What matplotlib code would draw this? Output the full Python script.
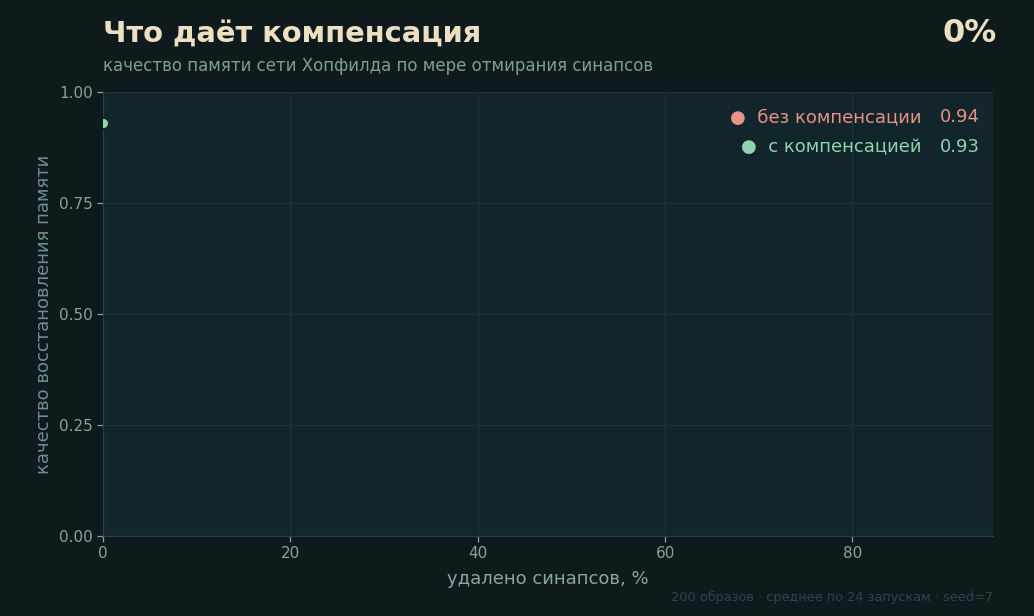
import matplotlib

matplotlib.use("Agg")
import matplotlib.pyplot as plt

# progress of the animation frame (percent of synapses removed so far)
removed_pct = [0]
quality_no_comp = [0.94]
quality_comp = [0.93]

series_labels = ["без компенсации", "с компенсацией"]
series_colors = ["#e8928a", "#8fd3b0"]

x_ticks = [0, 20, 40, 60, 80]
y_ticks = [0.0, 0.25, 0.5, 0.75, 1.0]

FIG_BG = "#0e1a1b"
AX_BG = "#12252a"
GRID = "#1e3336"
TICK = "#86a3a0"
TITLE = "#ecdfc2"

fig = plt.figure(figsize=(10.34, 6.16), dpi=100, facecolor=FIG_BG)
ax = fig.add_axes([103 / 1034, 80 / 616, 890 / 1034, 444 / 616])
ax.set_facecolor(AX_BG)

ax.set_xlim(0, 95)
ax.set_ylim(0, 1)
ax.set_xticks(x_ticks)
ax.set_yticks(y_ticks)
ax.set_yticklabels([f"{v:.2f}" for v in y_ticks])
ax.grid(True, color=GRID, lw=0.9)
ax.set_axisbelow(True)
for side in ("top", "right"):
    ax.spines[side].set_visible(False)
for side in ("left", "bottom"):
    ax.spines[side].set_color("#2a4446")
ax.tick_params(colors=TICK, labelsize=11, length=4, width=0.9)
for t in ax.get_xticklabels() + ax.get_yticklabels():
    t.set_color(TICK)

# current point: the compensated series sits on top
ax.scatter(removed_pct, quality_comp, s=65, color=series_colors[1],
           edgecolor=AX_BG, linewidth=1.5, zorder=5, clip_on=True)

ax.set_xlabel("удалено синапсов, %", color="#8aa5a3", fontsize=13, labelpad=6)
ax.set_ylabel("качество восстановления памяти", color="#6f8e8c", fontsize=13, labelpad=4)

# legend with latest values
legend_vals = [quality_no_comp[-1], quality_comp[-1]]
for i, (lab, col, val) in enumerate(zip(series_labels, series_colors, legend_vals)):
    y = 0.944 - i * 0.0676
    ax.text(0.92, y, "●  " + lab, transform=ax.transAxes, ha="right", va="center",
            color=col, fontsize=13)
    ax.text(0.985, y, f"{val:.2f}", transform=ax.transAxes, ha="right", va="center",
            color=col, fontsize=13)

fig.text(103 / 1034, 1 - 35 / 616, "Что даёт компенсация", color=TITLE,
         fontsize=20.8, fontweight="bold", ha="left", va="center")
fig.text(103 / 1034, 1 - 66 / 616, "качество памяти сети Хопфилда по мере отмирания синапсов",
         color="#7f9d9a", fontsize=12, ha="left", va="center")
fig.text(997 / 1034, 1 - 34 / 616, f"{removed_pct[-1]}%", color=TITLE,
         fontsize=23, fontweight="bold", ha="right", va="center")
fig.text(993 / 1034, 1 - 597 / 616, "200 образов · среднее по 24 запускам · seed=7",
         color="#2c4647", fontsize=9.3, ha="right", va="center")

fig.savefig("out.png", dpi=100, facecolor=FIG_BG)
